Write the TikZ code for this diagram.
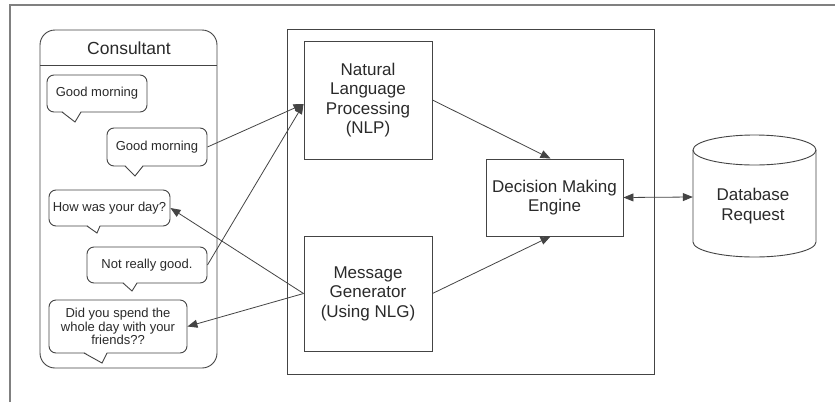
\documentclass[tikz,border=0pt]{standalone}
\usepackage{fontspec}
\setmainfont{Liberation Sans}
\usetikzlibrary{arrows.meta}
\definecolor{ln}{HTML}{444444}
\definecolor{tx}{HTML}{2A2A2A}
\definecolor{fr}{HTML}{808080}
\tikzset{
 box/.style={draw=ln, line width=0.9pt, align=center, text=tx, font=\fontsize{17}{19.5}\selectfont, inner sep=0pt},
 bubble/.style={draw=ln, line width=0.9pt, rounded corners=7pt, align=center, text=tx, font=\fontsize{13}{13.5}\selectfont, inner sep=0pt, fill=white},
 tail/.style={draw=ln, line width=0.9pt, line join=miter},
 tailfill/.style={fill=white},
 conn/.style={draw=ln, line width=0.8pt, -{Triangle[length=10pt,width=8pt]}},
 dconn/.style={draw=ln, line width=0.8pt, {Triangle[length=10pt,width=8pt]}-{Triangle[length=10pt,width=8pt]}},
}
\begin{document}
\begin{tikzpicture}[x=1pt,y=-1pt]
\useasboundingbox (0,0) rectangle (835,402);
\fill[white] (0,0) rectangle (835,402);
\draw[fr, line width=1.2pt] (10,402) -- (10,5) -- (835,5);

% Consultant panel
\draw[ln, line width=0.9pt, rounded corners=15pt] (40,30) rectangle (217,368);
\draw[ln, line width=0.9pt] (40,65) -- (217,65);
\node[text=tx, font=\fontsize{17.5}{20}\selectfont] (cons) at (129,48) {Consultant};

% bubbles
\node[bubble, minimum width=100pt, minimum height=37pt] (b1) at (97,93.5) {Good morning};
\fill[tailfill] (62,110.8) -- (75,122) -- (81,110.8) -- cycle;
\draw[tail] (62,112) -- (75,122) -- (81,112);

\node[bubble, minimum width=100pt, minimum height=38pt] (b2) at (157,147) {Good morning};
\fill[tailfill] (125,164.8) -- (135,176) -- (143,164.8) -- cycle;
\draw[tail] (125,166) -- (135,176) -- (143,166);

\node[bubble, minimum width=121pt, minimum height=36pt] (b3) at (109.5,208) {How was your day?};
\fill[tailfill] (87,224.8) -- (97,233) -- (100,224.8) -- cycle;
\draw[tail] (87,226) -- (97,233) -- (100,226);

\node[bubble, minimum width=120pt, minimum height=36pt] (b4) at (147,265) {Not really good.};
\fill[tailfill] (123,281.8) -- (132,291) -- (137,281.8) -- cycle;
\draw[tail] (123,283) -- (132,291) -- (137,283);

\node[bubble, minimum width=138pt, minimum height=53pt] (b5) at (118,326.5) {Did you spend the\\whole day with your\\friends??};
\fill[tailfill] (84,351.8) -- (102,363) -- (107,351.8) -- cycle;
\draw[tail] (84,353) -- (102,363) -- (107,353);

% system panel
\node[draw=ln, line width=0.9pt, minimum width=367pt, minimum height=345pt, inner sep=0pt] (sys) at (470.5,201.5) {};
\node[box, minimum width=128pt, minimum height=118pt] (nlp) at (368,100) {Natural\\Language\\Processing\\(NLP)};
\node[box, minimum width=128pt, minimum height=115pt] (msg) at (368,293.5) {Message\\Generator\\(Using NLG)};
\node[box, minimum width=137pt, minimum height=77pt] (dec) at (554.5,197.5) {Decision Making\\Engine};

% database
\draw[ln, line width=0.9pt] (754.5,150) ellipse[x radius=61.5pt, y radius=15pt];
\draw[ln, line width=0.9pt] (693,150) -- (693,242) arc[start angle=180, end angle=360, x radius=61.5pt, y radius=15pt] -- (816,150);
\node[minimum width=123pt, minimum height=92pt, inner sep=0pt] (db) at (754.5,197) {};
\node[text=tx, font=\fontsize{17}{19.5}\selectfont, align=center] (dbt) at (753,206) {Database\\Request};

% connectors
\draw[conn] (b2.east) -- ([yshift=-4pt]nlp.west);
\draw[conn] (b4.east) -- ([yshift=-4pt]nlp.west);
\draw[conn] (msg.west) -- (b3.east);
\draw[conn] (msg.west) -- (b5.east);
\draw[conn] (nlp.east) -- ([xshift=-4pt]dec.north);
\draw[conn] (msg.east) -- ([xshift=-4pt]dec.south);
\draw[dconn] (dec.east) -- (db.west);
\end{tikzpicture}
\end{document}
